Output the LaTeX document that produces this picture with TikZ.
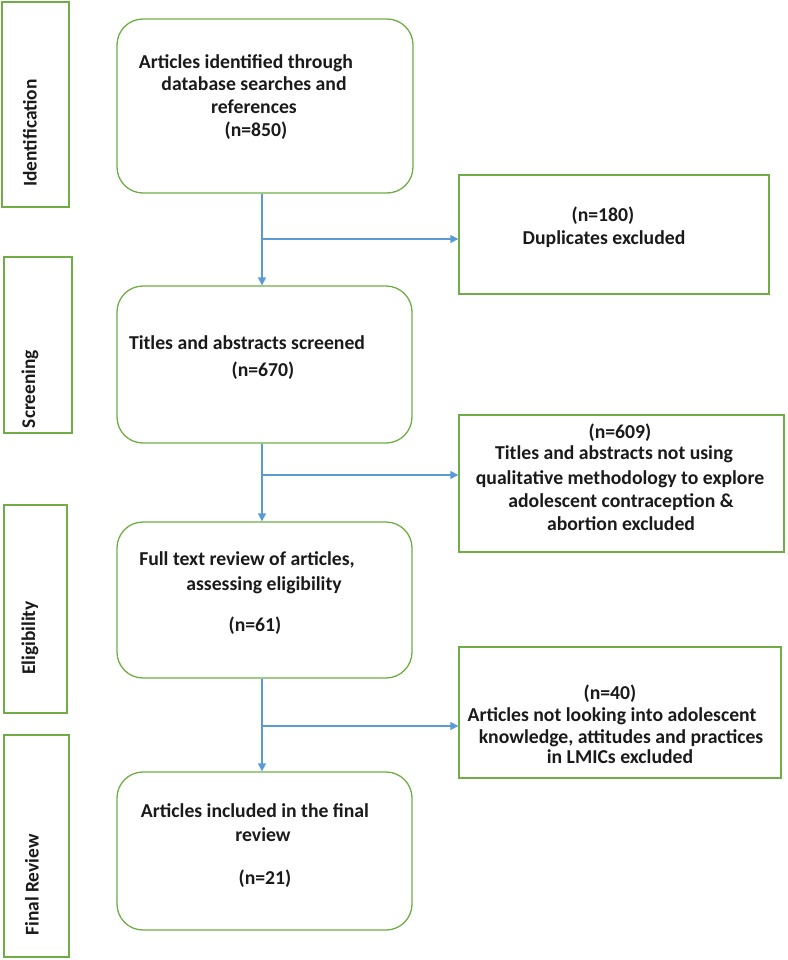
\documentclass[tikz,border=0pt]{standalone}
\usepackage{fontspec}
\setmainfont{Carlito}
\usetikzlibrary{arrows.meta}
\definecolor{boxgreen}{HTML}{70AD47}
\definecolor{arrblue}{HTML}{5B9BD5}
\definecolor{txtcol}{HTML}{1A1A1A}
\tikzset{
  rbox/.style={draw=boxgreen, line width=1.3pt, rounded corners=26pt, inner sep=0pt},
  sbox/.style={draw=boxgreen, line width=1.3pt, inner sep=0pt},
  txt/.style={font=\fontsize{19.7}{23}\selectfont\bfseries, text=txtcol, inner sep=0pt, anchor=base},
  side/.style={font=\fontsize{19.4}{23}\selectfont\bfseries, text=txtcol, inner sep=0pt, rotate=90},
  conn/.style={draw=arrblue, line width=1.3pt},
  arr/.style={conn, -{Triangle[length=8pt,width=8pt]}}
}
\newcommand{\tline}[4]{\node[txt] (#1) at (#2,#3+6.5) {#4};}
\begin{document}
\begin{tikzpicture}[x=1pt,y=-1pt]
\useasboundingbox (0,0) rectangle (787,960);
% side labels
\node[sbox, minimum width=67pt, minimum height=205pt] (s1) at (35.5,104.5) {};
\node[sbox, minimum width=68pt, minimum height=176pt] (s2) at (38,345) {};
\node[sbox, minimum width=63pt, minimum height=208pt] (s3) at (35.5,609) {};
\node[sbox, minimum width=65pt, minimum height=222pt] (s4) at (36.5,846) {};
\node[side] (l1) at (30,133) {Identification};
\node[side] (l2) at (30,389) {Screening};
\node[side] (l3) at (30,638) {Eligibility};
\node[side] (l4) at (32,885) {Final Review};
% main boxes
\node[rbox, minimum width=296pt, minimum height=174pt] (b1) at (265,106) {};
\node[rbox, minimum width=295pt, minimum height=157pt] (b2) at (264.5,364.5) {};
\node[rbox, minimum width=295pt, minimum height=156pt] (b3) at (264.5,600) {};
\node[rbox, minimum width=295pt, minimum height=158pt] (b4) at (264.5,851) {};
% exclusion boxes
\node[sbox, minimum width=310pt, minimum height=119pt] (r1) at (614,234.5) {};
\node[sbox, minimum width=325pt, minimum height=137pt] (r2) at (621.5,483.5) {};
\node[sbox, minimum width=322pt, minimum height=131pt] (r3) at (620,712.5) {};
% texts
\tline{t1a}{246}{62}{Articles identified through}
\tline{t1b}{254}{84}{database searches and}
\tline{t1c}{254}{107}{references}
\tline{t1d}{256}{130}{(n=850)}
\tline{t2a}{247}{343}{Titles and abstracts screened}
\tline{t2b}{263}{370}{(n=670)}
\tline{t3a}{247}{559}{Full text review of articles,}
\tline{t3b}{264}{584}{assessing eligibility}
\tline{t3c}{255}{625}{(n=61)}
\tline{t4a}{255}{811}{Articles included in the final}
\tline{t4b}{263}{835}{review}
\tline{t4c}{265}{878}{(n=21)}
\tline{u1a}{603}{215}{(n=180)}
\tline{u1b}{604}{238}{Duplicates excluded}
\tline{u2a}{620}{432}{(n=609)}
\tline{u2b}{614}{453}{Titles and abstracts not using}
\tline{u2c}{620}{478}{qualitative methodology to explore}
\tline{u2d}{621}{501}{adolescent contraception \&}
\tline{u2e}{621}{524}{abortion excluded}
\tline{u3a}{610}{693}{(n=40)}
\tline{u3b}{612}{715}{Articles not looking into adolescent}
\tline{u3c}{621}{737}{knowledge, attitudes and practices}
\tline{u3d}{620}{757}{in LMICs excluded}
% connectors
\coordinate (j1) at (262,239);
\coordinate (j2) at (262,475);
\coordinate (j3) at (262,726);
\draw[arr] (b1.south -| j1) -- (b2.north -| j1);
\draw[arr] (j1) -- (j1 -| r1.west);
\draw[arr] (b2.south -| j2) -- (b3.north -| j2);
\draw[arr] (j2) -- (j2 -| r2.west);
\draw[arr] (b3.south -| j3) -- (b4.north -| j3);
\draw[arr] (j3) -- (j3 -| r3.west);
\end{tikzpicture}
\end{document}
